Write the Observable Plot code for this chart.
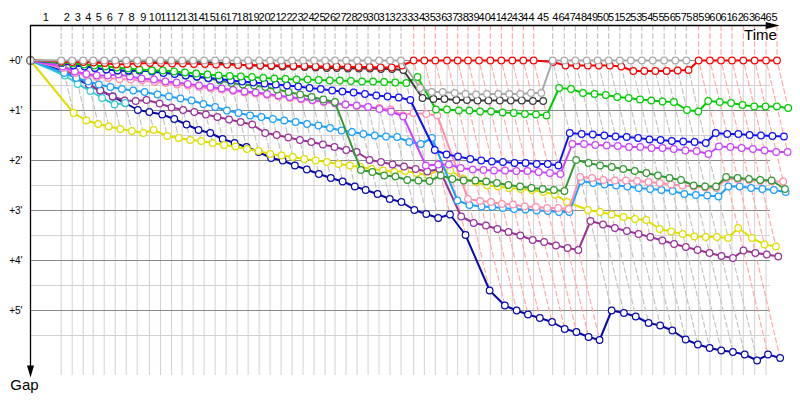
<!DOCTYPE html>
<html>
<head>
<meta charset="utf-8">
<script src="https://cdn.jsdelivr.net/npm/d3@7"></script>
<script src="https://cdn.jsdelivr.net/npm/@observablehq/plot@0.6"></script>
<style>
  html, body { margin: 0; padding: 0; background: #ffffff; }
  #chart svg { display: block; }
</style>
</head>
<body>
<div id="chart"></div>
<script>
// ---------------- DATA ----------------
// leader lap durations (seconds), laps 1..65
const lapSeconds = [156.1, 55.9, 55.9, 50.9, 55.9, 55.9, 55.9, 55.9, 62.5, 55.9, 55.9, 54.4, 55.9, 55.9, 55.9, 55.9, 55.9, 55.9, 55.9, 55.9, 55.9, 55.9, 55.9, 55.9, 55.9, 50.9, 55.9, 55.9, 55.9, 55.9, 55.9, 55.9, 64.1, 54.4, 55.9, 59.5, 53.9, 52.9, 55.9, 57.5, 55.9, 55.9, 55.9, 52.4, 96.6, 59.5, 55.9, 57.5, 55.9, 55.9, 57.0, 55.9, 55.9, 55.9, 57.5, 57.0, 55.9, 62.5, 57.5, 56.4, 55.9, 57.5, 57.5, 58.0, 55.9];

// gap to leader (minutes) for each car, index = lap number (0 = start)
const gapNavy = [0, .22,.36,.5,.6,.72,.85,.99,1.03,1.08,1.17,1.28,1.39,1.45,1.57,1.65,1.73,1.83,1.95,2.0,2.1,2.18,2.27,2.35,2.42,2.52,2.59,2.67,2.77,2.83,2.99,3.07,3.15,3.08,3.49, 4.6,4.9,5.0,5.08,5.15,5.23,5.37,5.43,5.53,5.59, 5.0, 5.05,5.12,5.25,5.3,5.4,5.58,5.68,5.75,5.8,5.83,5.88,6.0, 5.88,5.95];
const gapYellow = [0, 1.05,1.2,1.27,1.32,1.37,1.41,1.45,1.39,1.51,1.55,1.59,1.61,1.65,1.69,1.72,1.77,1.81,1.87,1.9,1.93,1.97,2.0,2.03,2.07,2.1,2.13,2.17,2.2,2.23,2.21,2.25,2.3,2.17,2.2, 2.37,2.43,2.5,2.52,2.55,2.57,2.59,2.63,2.68,2.83, 2.99, 3.03,3.08,3.13,3.17,3.19,3.37,3.42,3.47,3.52,3.53,3.53,3.55, 3.35,3.55,3.68,3.72];
const gapPurple = [0, .15,.32,.48,.6,.72,.8,.81,.79,.86,.94,.99,1.03,1.08,1.13,1.18,1.23,1.28,1.45,1.49,1.54,1.59,1.63,1.68,1.73,1.79,1.83,1.99,2.03,2.08,2.12,2.17,2.22,2.17, 3.12,3.25,3.3,3.37,3.43,3.5,3.59,3.63,3.7,3.75,3.79, 3.21, 3.28,3.35,3.41,3.47,3.53,3.6,3.67,3.73,3.79,3.85,3.91,3.95, 3.8,3.85,3.88,3.92];
const gapCyan = [0, .3, .47, .61, .75, .88, .85];
const gapLightGreen = [0, .08, .22];
const gapLightBlue = [0, .25,.35,.42,.48,.53,.57,.6,.63,.68,.72,.76,.8,.87,.93,1.0,1.05,1.1,1.13,1.17,1.2,1.23,1.27,1.3,1.35,1.4,1.43,1.47,1.5,1.52,1.53,1.63,1.67,1.55, 2.8,2.89,2.92,2.93,2.95,2.97,2.98,3.0,3.01,3.03,3.03, 2.41, 2.45,2.48,2.5,2.52,2.55,2.57,2.59,2.61,2.67,2.69,2.7,2.72, 2.52,2.52,2.55,2.57,2.59,2.63];
const gapPink = [0, .15,.25,.3,.33,.35,.37,.38,.4,.43,.45,.48,.5,.53,.56,.58,.61,.64,.66,.69,.72,.75,.78,.8,.83,.86,.88,.91,.93,.95,.98,1.1,1.05,1.07,1.1, 2.77,2.81,2.83,2.87,2.88,2.92,2.93,2.95,2.95,2.97, 2.33, 2.35,2.39,2.4,2.4,2.41,2.43,2.45,2.48,2.5,2.52,2.54,2.55, 2.36,2.38,2.39,2.41,2.42,2.42];
const gapViolet = [0, .12,.22,.27,.3,.3,.28,.32,.36,.38,.42,.44,.47,.5,.53,.56,.59,.62,.64,.67,.7,.73,.76,.79,.82,.85,.88,.9,.93,.97,1.02,1.12, 2.1,2.08,2.08,2.15,2.18,2.19,2.2,2.2,2.21,2.21,2.23,2.25,2.27, 1.67, 1.67,1.69,1.7,1.71,1.73,1.73,1.75,1.75,1.77,1.8,1.81,1.87, 1.72,1.73,1.75,1.77,1.8,1.83,1.83];
const gapDarkGreen = [0, .04,.06,.1,.15,.18,.2,.22,.2,.2,.22,.25,.3,.33,.36,.4,.45,.48,.5,.53,.58,.63,.68,.73,.78,.83, 2.19,2.23,2.3,2.32,2.39,2.4,2.41,2.3,2.37,2.4,2.4,2.42,2.45,2.49,2.52,2.55,2.57,2.59,2.61, 1.99, 2.05,2.1,2.13,2.17,2.21,2.25,2.3,2.35,2.39,2.5,2.52,2.52, 2.33,2.35,2.37,2.39,2.4,2.57];
const gapBlue = [0, .05,.1,.12,.15,.18,.2,.2,.2,.22,.25,.27,.3,.32,.35,.37,.4,.42,.44,.46,.48,.5,.52,.55,.57,.6,.62,.64,.67,.7,.72,.74,.79, 1.79,1.88,1.92,1.97,2.0,2.02,2.03,2.05,2.05,2.07,2.07,2.1, 1.45, 1.47,1.48,1.5,1.52,1.53,1.55,1.58,1.59,1.61,1.62,1.63,1.65, 1.45,1.47,1.47,1.49,1.5,1.51,1.52];
const gapGreen = [0, .04,.06,.08,.1,.12,.14,.16,.18,.2,.2,.22,.24,.26,.28,.3,.31,.32,.33,.35,.36,.37,.38,.38,.39,.4,.4,.41,.42,.42,.43,.44,.45, .33, .98,.98,1.0,1.0,1.02,1.02,1.04,1.05,1.07,1.08,1.1, .55, .57,.65,.67,.69,.73,.75,.78,.8,.82,.83,.99,1.02, .81,.83,.85,.89,.92,.92,.92,.95];
const gapBlack = [0, .01,.01,.01,.01,.01,.01,.01,.01,.01,.02,.02,.02,.02,.03,.04, .06,.08,.1,.1,.11,.12,.12,.13,.14,.15,.15,.16,.16,.16,.17,.17,.19, .75,.77,.77,.79,.79,.8,.8,.8,.8,.8,.81,.81];
const gapRed = [0, .02,.03,.03,.04,.05,.08,.07,.06,.05,.05,.06,.06,.07,.07,.08,.08,.09,.09,.1,.1,.1,.11,.11,.12,.12,.12,.13,.13,.13,.14,.14,.1, 0,0,0,0,0,0,0,0,0,0,0,0, .03, .1,.1,.1,.1,.1,.12,.21,.21,.21,.21,.2,.19, 0,0,0,0,0,0,0,0];
const gapGray = [0, 0,0,0,0,0,0,0,0,0,0,0,0,0,0,0,0,0,0,0,0,0,0,0,0,0,0,0,0,0,0,0,0, .55,.63,.63,.65,.67,.68,.67,.67,.67,.67,.65,.65, 0,0,0,0,0,0,0,0,0,0,0,0,0];

const carNames = ["navy","yellow","purple","cyan","lightgreen","lightblue","pink","violet","darkgreen","blue","green","black","red","gray"];
const carGaps = [gapNavy, gapYellow, gapPurple, gapCyan, gapLightGreen, gapLightBlue, gapPink, gapViolet, gapDarkGreen, gapBlue, gapGreen, gapBlack, gapRed, gapGray];
const carColors = ["#0a0aa8","#dede00","#993399","#33cccc","#99dd66","#1ea0ff","#ff8fae","#cc44ff","#339933","#1010ff","#00cc00","#3c3c3c","#ff0000","#a8a8a8"];

const yTickValues = [0, 1, 2, 3, 4, 5];
const yTickLabels = ["+0'", "+1'", "+2'", "+3'", "+4'", "+5'"];
const yMinorValues = [0.5, 1.5, 2.5, 3.5, 4.5, 5.5];

// ---------------- BUILD ----------------
const cum = [0];
for (const s of lapSeconds) cum.push(cum[cum.length - 1] + s / 60);

const X_MAX = 740 / 11.8;     // minutes at right end of frame
const Y_TOP = -0.7, Y_BOTTOM = 6.3;

const series = carNames.map((name, i) => ({
  name, color: carColors[i],
  points: carGaps[i].map((g, lap) => ({ lap, t: cum[lap] + g, g }))
}));

// lap "isochrone" dashed lines, coloured by the leader of that lap
const dashGray = [], dashRed = [];
for (let m = 1; m < cum.length; m++) {
  let G = -Infinity, lead = null, lg = Infinity;
  carNames.forEach((name, i) => {
    const gaps = carGaps[i];
    if (m < gaps.length) {
      const g = gaps[m];
      if (g > G) G = g;
      if (g < lg) { lg = g; lead = name; }
    }
  });
  const arr = lead === "red" ? dashRed : dashGray;
  arr.push({ lap: m, t: cum[m], g: Y_TOP }, { lap: m, t: cum[m], g: 0 }, { lap: m, t: cum[m] + G, g: G });
}

const gridT = cum.slice(1).filter(t => t <= X_MAX);
const lapLabels = cum.slice(1).map((t, i) => ({ lap: i + 1, t: (cum[i] + t) / 2 }));

const arrowDown = { draw(ctx) { ctx.moveTo(-3.5, -6); ctx.lineTo(3.5, -6); ctx.lineTo(0, 6); ctx.closePath(); } };
const arrowRight = { draw(ctx) { ctx.moveTo(-7, -3.5); ctx.lineTo(-7, 3.5); ctx.lineTo(7, 0); ctx.closePath(); } };

const seriesMarks = series.flatMap(s => [
  Plot.line(s.points, { x: "t", y: "g", stroke: s.color, strokeWidth: 2, strokeLinejoin: "round" }),
  Plot.dot(s.points, { x: "t", y: "g", r: 3.3, fill: "white", stroke: s.color, strokeWidth: 1.2 })
]);

const chart = Plot.plot({
  width: 800,
  height: 400,
  margin: 0,
  x: { domain: [0, X_MAX], range: [30, 770], axis: null },
  y: { domain: [Y_TOP, Y_BOTTOM], range: [25, 375], axis: null },
  style: { background: "#ffffff", fontFamily: "'Liberation Sans', Arial, sans-serif", fontSize: "11px", overflow: "visible" },
  marks: [
    Plot.ruleY(yMinorValues, { x1: 0, x2: X_MAX, stroke: "#d2d2d2", strokeWidth: 1 }),
    Plot.ruleX(gridT, { y1: 0, y2: Y_BOTTOM, stroke: "#d2d2d2", strokeWidth: 1 }),
    Plot.ruleY(yTickValues, { x1: 0, x2: X_MAX, stroke: "#8a8a8a", strokeWidth: 1.2 }),
    Plot.line(dashGray, { x: "t", y: "g", z: "lap", stroke: "#c4c4c4", strokeWidth: 1.2, strokeDasharray: "5,3" }),
    Plot.line(dashRed, { x: "t", y: "g", z: "lap", stroke: "#ffaaaa", strokeWidth: 1.2, strokeDasharray: "5,3" }),
    ...seriesMarks,
    // axes
    Plot.ruleX([0], { y1: Y_TOP, y2: 6.2, stroke: "black", strokeWidth: 1.3 }),
    Plot.ruleY([Y_TOP], { x1: 0, x2: 62.8, stroke: "black", strokeWidth: 1.3 }),
    Plot.dot([{ t: 0, g: 6.22 }], { x: "t", y: "g", symbol: arrowDown, fill: "black", stroke: null }),
    Plot.dot([{ t: 62.9, g: Y_TOP }], { x: "t", y: "g", symbol: arrowRight, fill: "black", stroke: null }),
    // labels
    Plot.text(lapLabels, { x: "t", y: Y_TOP, dy: -8, text: d => String(d.lap), fontSize: 11, fill: "black" }),
    Plot.text(yTickValues, { x: 0, y: d => d, dx: -8, textAnchor: "end", text: (d, i) => yTickLabels[i], fontSize: 10, fill: "black" }),
    Plot.text(["Gap"], { x: 0, y: Y_BOTTOM, dx: -6, dy: 10, text: d => d, fontSize: 15, fill: "black" }),
    Plot.text(["Time"], { x: X_MAX, y: Y_TOP, dx: -10, dy: 10, text: d => d, fontSize: 15, fill: "black" })
  ]
});

document.getElementById("chart").append(chart);
</script>
</body>
</html>
